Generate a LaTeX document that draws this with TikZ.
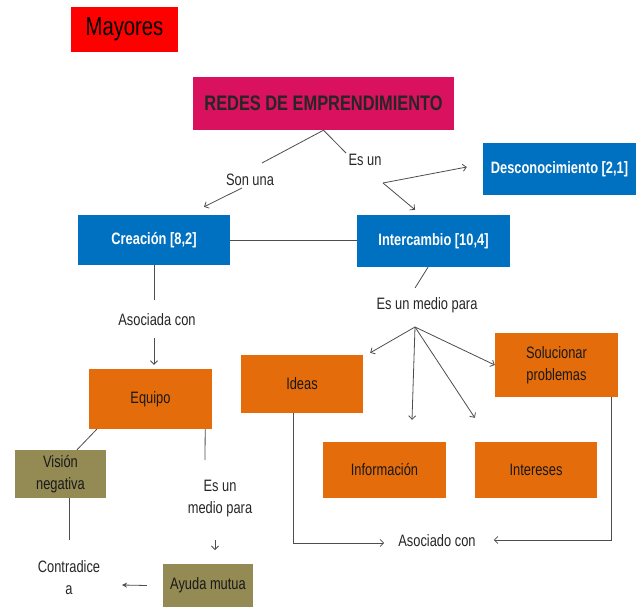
\documentclass[tikz,border=0pt]{standalone}
\usepackage{fontspec}
\setmainfont[FakeStretch=0.78]{Liberation Sans}
\usetikzlibrary{calc,arrows.meta}
\definecolor{rojo}{HTML}{FF0000}
\definecolor{fucsia}{HTML}{D9115F}
\definecolor{azul}{HTML}{0070C0}
\definecolor{naranja}{HTML}{E46C0A}
\definecolor{oliva}{HTML}{948A54}
\definecolor{linea}{HTML}{4D4D4D}

\begin{document}
\begin{tikzpicture}[x=1pt,y=-1pt,
    font=\fontsize{16.5}{22}\selectfont,
    caja/.style={rectangle, inner sep=0pt, align=center},
    azulbox/.style={caja, fill=azul, text=white, font=\fontsize{16.5}{22}\selectfont\bfseries},
    naranjabox/.style={caja, fill=naranja, text=black!90},
    olivabox/.style={caja, fill=oliva, text=black!90},
    etiq/.style={inner sep=0pt, align=center, text=black!85},
    con/.style={draw=linea, line width=0.8pt},
    flecha/.style={con, -{Straight Barb[length=3.5pt,width=7pt]}}]
  \useasboundingbox (0,0) rectangle (637,607);
  % cajas
  \node[caja, fill=rojo, minimum width=107, minimum height=45, font=\fontsize{26}{30}\selectfont] (mayores) at (124.5,29.5) {Mayores};
  \node[caja, fill=fucsia, minimum width=261, minimum height=53, font=\fontsize{21}{24}\selectfont\bfseries, text=black!85] (redes) at (323.5,103.5) {REDES DE EMPRENDIMIENTO};
  \node[azulbox, minimum width=153, minimum height=52] (desc) at (559.5,169) {Desconocimiento [2,1]};
  \node[azulbox, minimum width=152, minimum height=50] (creacion) at (154,240) {Creación [8,2]};
  \node[azulbox, minimum width=153, minimum height=52] (intercambio) at (433.5,241) {Intercambio [10,4]};
  \node[naranjabox, minimum width=123, minimum height=60] (equipo) at (150.5,399) {Equipo};
  \node[naranjabox, minimum width=122, minimum height=58] (ideas) at (302,384) {Ideas};
  \node[naranjabox, minimum width=123, minimum height=64] (solucionar) at (556.5,365) {Solucionar\\problemas};
  \node[naranjabox, minimum width=123, minimum height=56] (informacion) at (384.5,470) {Información};
  \node[naranjabox, minimum width=122, minimum height=56] (intereses) at (536,470) {Intereses};
  \node[olivabox, minimum width=91, minimum height=48] (vision) at (60.5,474) {Visión\\negativa};
  \node[olivabox, minimum width=90, minimum height=43] (ayuda) at (208,585.5) {Ayuda mutua};
  % etiquetas
  \node[etiq] (sonuna) at (250,180) {Son una};
  \node[etiq] (esun) at (365,160) {Es un};
  \node[etiq] (asociada) at (157,320) {Asociada con};
  \node[etiq] (medio) at (427,305) {Es un medio para};
  \node[etiq] (medio2) at (220,499) {Es un\\medio para};
  \node[etiq] (contradice) at (69,578) {Contradice\\a};
  \node[etiq] (asociado) at (437,541) {Asociado con};
  \coordinate (bifurca) at ($(esun)+(18,23)$);
  \coordinate (abanico) at ($(medio)+(-12,22)$);
  % conectores
  \draw[con] (redes.south) -- ($(sonuna)+(12,-17)$);
  \draw[flecha] ($(sonuna)+(-8,8)$) -- ($(creacion.north)+(50,-8)$);
  \draw[con] (redes.south) -- ($(esun)+(-19,-7)$);
  \draw[flecha] (bifurca) -- ($(desc.west)+(-16,-2)$);
  \draw[flecha] (bifurca) -- ($(intercambio.north)+(-18.5,-5)$);
  \draw[con] (creacion.east) -- (creacion.east -| intercambio.west);
  \draw[con] (creacion.south) -- ($(asociada)+(-3,-20)$);
  \draw[flecha] ($(asociada)+(-3,18)$) -- ($(equipo.north)+(3.5,-4)$);
  \draw[con] ([xshift=-5.5pt]intercambio.south) -- ($(medio)+(-12,-17)$);
  \draw[flecha] (abanico) -- ($(ideas.north east)+(7,-2)$);
  \draw[flecha] (abanico) -- ($(informacion.north)+(27.5,-22)$);
  \draw[flecha] (abanico) -- ($(intereses.north west)+(0,-24)$);
  \draw[flecha] (abanico) -- (solucionar.west);
  \draw[flecha] ([xshift=-9pt]ideas.south) |- ($(asociado.west)+(-14,2)$);
  \draw[flecha] ([xshift=-7pt]solucionar.south east) |- ($(asociado.east)+(18,-1)$);
  \draw[con] ([xshift=8pt]equipo.south west) -- ([xshift=16.5pt]vision.north);
  \draw[con] ([xshift=-7pt]equipo.south east) -- ($(medio2)+(-15,-39)$);
  \draw[flecha] ($(medio2)+(-5,41)$) -- ($(medio2)+(-5,51)$);
  \draw[con] ([xshift=8.5pt]vision.south) -- ($(contradice)+(0,-38)$);
  \draw[con, -{Stealth[length=5pt,width=5pt]}] ($(ayuda.west)+(-16,0)$) -- ($(contradice)+(53,7)$);
\end{tikzpicture}
\end{document}
